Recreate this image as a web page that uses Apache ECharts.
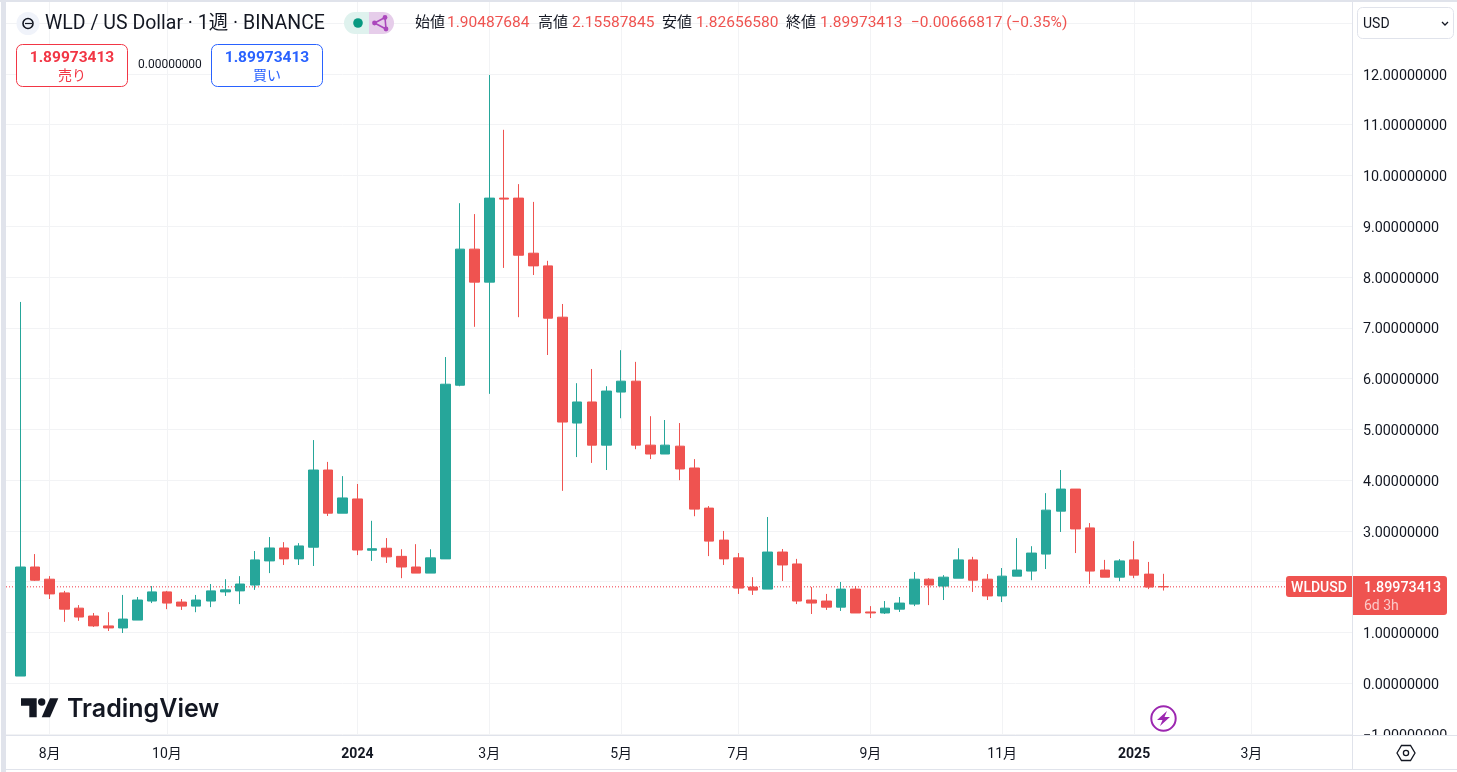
<!DOCTYPE html>
<html><head><meta charset="utf-8">
<style>html,body{margin:0;padding:0;background:#fff}#c{width:1457px;height:772px}</style>
<script src="https://cdn.jsdelivr.net/npm/echarts@6/dist/echarts.min.js"></script>
</head><body><div id="c"></div>
<script>
const opens=[0.143,2.29,2.05,1.78,1.48,1.325,1.13,1.09,1.245,1.62,1.80,1.60,1.52,1.62,1.80,1.82,1.935,2.41,2.665,2.45,2.68,4.20,3.35,3.63,2.62,2.66,2.50,2.29,2.17,2.45,5.87,8.55,7.90,9.555,9.555,8.47,8.22,7.21,5.125,5.54,4.69,5.735,5.95,4.69,4.515,4.67,4.24,3.45,2.82,2.47,1.895,1.855,2.585,2.35,1.64,1.62,1.50,1.855,1.405,1.385,1.46,1.56,2.05,1.915,2.07,2.43,2.05,1.72,2.11,2.21,2.545,3.39,3.825,3.06,2.23,2.09,2.43,2.15,1.90487684];
const closes=[2.29,2.03,1.76,1.46,1.305,1.13,1.09,1.265,1.64,1.80,1.58,1.52,1.64,1.82,1.84,1.955,2.43,2.665,2.45,2.705,4.20,3.35,3.65,2.625,2.65,2.49,2.29,2.17,2.47,5.89,8.55,7.90,9.555,9.535,8.43,8.22,7.19,5.145,5.54,4.69,5.755,5.95,4.69,4.515,4.69,4.22,3.43,2.80,2.45,1.875,1.835,2.585,2.33,1.62,1.58,1.50,1.855,1.385,1.385,1.48,1.58,2.05,1.935,2.09,2.43,2.03,1.72,2.11,2.23,2.565,3.41,3.825,3.04,2.21,2.09,2.41,2.13,1.895,1.89973413];
const lows=[0.143,2.015,1.66,1.21,1.23,1.11,1.03,0.99,1.245,1.58,1.46,1.445,1.40,1.50,1.72,1.56,1.84,2.17,2.33,2.33,2.31,3.295,3.35,2.525,2.41,2.37,2.07,2.17,2.17,2.45,5.85,7.02,5.70,8.18,7.21,8.04,6.465,3.79,4.455,4.34,4.20,5.22,4.61,4.415,4.515,4.00,3.29,2.505,2.33,1.76,1.74,1.855,2.015,1.56,1.365,1.445,1.425,1.385,1.285,1.365,1.405,1.52,1.54,1.64,2.07,1.80,1.64,1.60,2.11,2.03,2.25,2.98,2.565,1.955,2.09,2.01,2.07,1.855,1.8265658];
const highs=[7.51,2.545,2.11,1.82,1.54,1.385,1.40,1.74,1.70,1.915,1.82,1.66,1.74,1.955,2.05,2.11,2.605,2.88,2.78,2.76,4.79,4.36,4.08,3.925,3.20,2.86,2.64,2.74,2.64,6.425,9.455,9.24,11.98,10.90,9.83,9.48,8.32,7.47,5.91,6.19,5.85,6.56,6.33,5.26,5.185,5.125,4.415,3.49,3.00,2.565,2.09,3.275,2.645,2.45,1.895,1.76,1.995,1.915,1.52,1.62,1.70,2.19,2.07,2.13,2.66,2.49,2.15,2.27,2.86,2.70,3.745,4.20,3.825,3.155,2.43,2.445,2.80,2.39,2.15587845];
const tickBars=[2,10,23,32,41,49,58,67,76,84];
const tickLabels=['8月','10月','2024','3月','5月','7月','9月','11月','2025','3月'];
const priceTicks=[-1,0,1,2,3,4,5,6,7,8,9,10,11,12,13];
const lastClose=1.89973413;
const lastPriceText='1.89973413', countdown='6d 3h', tickerText='WLDUSD';
const ohlcLabels=['始値','高値','安値','終値'];
const ohlcValues=['1.90487684','2.15587845','1.82656580','1.89973413'];
const changeText='−0.00666817 (−0.35%)';
const bars=opens.map((o,i)=>[i,o,closes[i],lows[i],highs[i]]);

const FONT='Roboto,"Noto Sans CJK JP",sans-serif';
const UP='#26a69a',DOWN='#ef5350',INK='#131722',LINE='#e0e3eb',GRID='#f2f3f5';
const T=(x,y,text,size,fill,extra)=>({type:'text',z:20,x,y,style:Object.assign({text,fontFamily:FONT,fontSize:size,fill,textVerticalAlign:'middle',textAlign:'left'},extra||{})});
const R=(x,y,w,h,fill,extra,r)=>({type:'rect',z:15,shape:{x,y,width:w,height:h,r:r||0},style:Object.assign({fill},extra||{})});
const chart=echarts.init(document.getElementById('c'),null,{renderer:'canvas'});
const xRange={min:(6-20.33)/14.655,max:(1352-20.33)/14.655};
const baseX=Object.assign({type:'value',position:'bottom',scale:true,axisLine:{show:false},axisTick:{show:false,customValues:tickBars}},xRange);
chart.setOption({
 animation:false,
 grid:{left:6,width:1346,top:2,height:733,outerBoundsMode:'none',containLabel:false},
 xAxis:[
  Object.assign({},baseX,{z:0,axisLabel:{show:false,customValues:tickBars},splitLine:{show:true,lineStyle:{color:GRID,width:1}}}),
  Object.assign({},baseX,{z:30,splitLine:{show:false},axisLabel:{customValues:tickBars,margin:12,fontFamily:FONT,fontSize:14,color:INK,
    formatter:v=>{const s=tickLabels[tickBars.indexOf(v)]||'';return /^20/.test(s)?'{b|'+s+'}':s},
    rich:{b:{fontFamily:FONT,fontSize:14,fontWeight:'bold',color:INK}}}})
 ],
 yAxis:{type:'value',position:'right',min:(683.3-735)/50.78,max:(683.3-2)/50.78,z:0,axisLine:{show:false},axisTick:{show:false,customValues:priceTicks},
  splitLine:{show:true,lineStyle:{color:GRID,width:1}},
  axisLabel:{customValues:priceTicks,margin:11,align:'left',fontFamily:FONT,fontSize:14.3,color:INK,
   formatter:v=>'{a|'+(v<0?'−':'')+Math.abs(v).toFixed(8)+'}',
   rich:{a:{fontFamily:FONT,fontSize:14.3,color:INK,padding:[4,0,0,0]}}}},
 series:[
  {type:'line',xAxisIndex:0,yAxisIndex:0,z:1,symbol:'none',silent:true,data:[[xRange.min,lastClose],[xRange.max,lastClose]],
   lineStyle:{color:'#f23645',type:[1,2],width:1}},
  {type:'candlestick',xAxisIndex:0,yAxisIndex:0,z:3,barWidth:10,clip:true,
  encode:{x:0,y:[1,2,3,4]},data:bars,
  itemStyle:{color:UP,color0:DOWN,borderColor:UP,borderColor0:DOWN,borderWidth:1}}
 ],
 tooltip:{show:false}
});
const py=Math.round(chart.convertToPixel({yAxisIndex:0},lastClose));
chart.setOption({graphic:{elements:[
 R(0,735,1457,37,'#fff'),
 R(0,0,1457,2,LINE),R(1,0,5,772,LINE),
 R(6,735,1451,1,LINE),R(1352,2,1,767,LINE),R(6,769,1451,1,LINE),
 // header
 {type:'circle',z:16,shape:{cx:28,cy:23.5,r:11.5},style:{fill:'#f0f3fa'}},
 {type:'circle',z:17,shape:{cx:28,cy:23.5,r:5},style:{fill:'none',stroke:INK,lineWidth:1.6}},
 {type:'line',z:17,shape:{x1:25,y1:23.5,x2:32,y2:23.5},style:{stroke:INK,lineWidth:1.2}},
 T(45,24,'WLD / US Dollar · 1週 · BINANCE',19.5,INK),
 R(344,12,25,22,'#dff2ee',null,[11,0,0,11]),
 R(369,12,25,22,'#e6cdea',null,[0,11,11,0]),
 {type:'circle',z:17,shape:{cx:358,cy:23,r:4.8},style:{fill:'#089981'}},
 {type:'polyline',z:17,shape:{points:[[385,17.5],[374.5,23],[386,29],[385,17.5]]},style:{fill:'none',stroke:'#ab47bc',lineWidth:1.6}},
 {type:'circle',z:18,shape:{cx:385,cy:17.5,r:2.4},style:{fill:'#ab47bc'}},
 {type:'circle',z:18,shape:{cx:374.5,cy:23,r:2.4},style:{fill:'#ab47bc'}},
 {type:'circle',z:18,shape:{cx:386,cy:29,r:2.4},style:{fill:'#ab47bc'}},
 T(415,23,ohlcLabels[0],15,INK),T(447,23.5,ohlcValues[0],15.5,DOWN),
 T(538,23,ohlcLabels[1],15,INK),T(572,23.5,ohlcValues[1],15.5,DOWN),
 T(662,23,ohlcLabels[2],15,INK),T(696,23.5,ohlcValues[2],15.5,DOWN),
 T(786,23,ohlcLabels[3],15,INK),T(820,23.5,ohlcValues[3],15.5,DOWN),
 T(911,23.5,changeText,15.5,DOWN),
 // buy/sell
 R(16.5,44.5,111,42,'#fff',{stroke:'#f23645',lineWidth:1},6),
 T(72,58.5,lastPriceText,15.5,'#f23645',{textAlign:'center',fontWeight:'bold'}),
 T(72,76,'売り',14,'#f23645',{textAlign:'center'}),
 T(138,64.5,'0.00000000',12,INK),
 R(211.5,44.5,111,42,'#fff',{stroke:'#2962ff',lineWidth:1},6),
 T(267,58.5,lastPriceText,15.5,'#2962ff',{textAlign:'center',fontWeight:'bold'}),
 T(267,76,'買い',14,'#2962ff',{textAlign:'center'}),
 // currency
 R(1357.5,7.5,96,31,'#fff',{stroke:LINE,lineWidth:1},5),
 T(1363,24,'USD',14,INK),
 {type:'polyline',z:20,shape:{points:[[1442,22],[1445,25],[1448,22]]},style:{fill:'none',stroke:INK,lineWidth:1.3}},
 // price tags
 R(1286,py-11,66,21,'#ef5350',null,[3,0,0,3]),
 T(1319,py+1,tickerText,14,'#fff',{textAlign:'center',fontWeight:500}),
 R(1353,py-11,94,39,'#ef5350',null,[0,3,3,0]),
 T(1364,py+1,lastPriceText,14.3,'#fff',{fontWeight:500}),
 T(1364,py+19,countdown,14,'#fbc9c8'),
 // logo
 {type:'polygon',z:16,shape:{points:[[21,698.3],[36.7,698.3],[36.7,717.3],[29.3,717.3],[29.3,705.7],[21,705.7]]},style:{fill:INK}},
 {type:'circle',z:16,shape:{cx:41.7,cy:702,r:3.7},style:{fill:INK}},
 {type:'polygon',z:16,shape:{points:[[50,698.3],[58.3,698.3],[50,717.3],[41.7,717.3]]},style:{fill:INK}},
 T(67,709,'TradingView',25,INK,{fontFamily:'Inter,Roboto,sans-serif',fontWeight:600}),
 // bolt + settings
 {type:'circle',z:16,shape:{cx:1163.5,cy:718.5,r:12.2},style:{fill:'#fff',stroke:'#9c27b0',lineWidth:2}},
 {type:'polygon',z:17,shape:{points:[[1167,711],[1157,720],[1162.5,720],[1160,726],[1170,717],[1164.5,717]]},style:{fill:'#9c27b0'}},
 {type:'polygon',z:20,shape:{points:[[1397,753],[1401.5,745.5],[1410.5,745.5],[1415,753],[1410.5,760.5],[1401.5,760.5]]},style:{fill:'none',stroke:INK,lineWidth:1.3}},
 {type:'circle',z:20,shape:{cx:1406,cy:753,r:2.6},style:{fill:'none',stroke:INK,lineWidth:1.3}}
]}});
</script></body></html>
